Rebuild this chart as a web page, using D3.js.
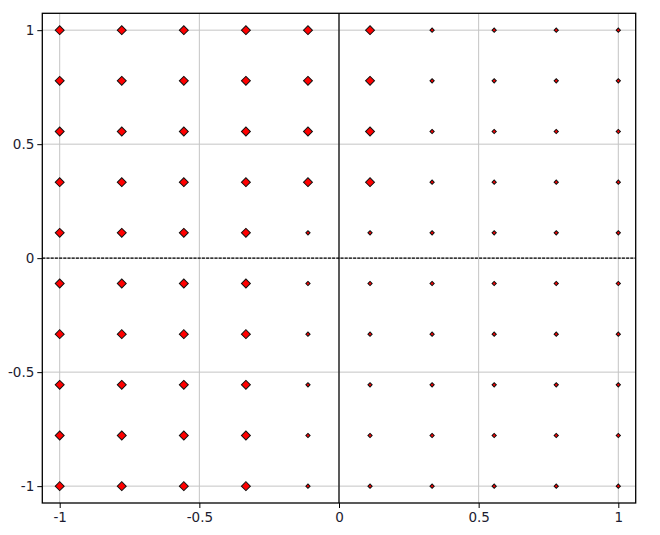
<!DOCTYPE html>
<html><head><meta charset="utf-8">
<script src="https://cdn.jsdelivr.net/npm/d3@7"></script>
<style>body{margin:0;background:#fff}</style>
</head><body>
<script>
const xValues = [-1, -0.7778, -0.5556, -0.3333, -0.1111, 0.1111, 0.3333, 0.5556, 0.7778, 1];
const yValues = [1, 0.7778, 0.5556, 0.3333, 0.1111, -0.1111, -0.3333, -0.5556, -0.7778, -1];
// 1 = large marker, 0 = small marker; rows follow yValues, columns follow xValues
const bigMarker = [
  [1,1,1,1,1,1,0,0,0,0],
  [1,1,1,1,1,1,0,0,0,0],
  [1,1,1,1,1,1,0,0,0,0],
  [1,1,1,1,1,1,0,0,0,0],
  [1,1,1,1,0,0,0,0,0,0],
  [1,1,1,1,0,0,0,0,0,0],
  [1,1,1,1,0,0,0,0,0,0],
  [1,1,1,1,0,0,0,0,0,0],
  [1,1,1,1,0,0,0,0,0,0],
  [1,1,1,1,0,0,0,0,0,0]
];
const tickValues = [-1, -0.5, 0, 0.5, 1];
const tickLabels = ["-1", "-0.5", "0", "0.5", "1"];

const W = 660, H = 535;
const L = 42.3, R = 635.7, T = 13.3, B = 503;
const svg = d3.select("body").append("svg").attr("width", W).attr("height", H);

const x = d3.scaleLinear().domain([-1.0623, 1.0623]).range([L, R]);
const y = d3.scaleLinear().domain([-1.074, 1.074]).range([B, T]);

// grid
svg.append("g").selectAll("line.gx").data(tickValues).join("line")
  .attr("x1", d => x(d)).attr("x2", d => x(d)).attr("y1", T).attr("y2", B)
  .attr("stroke", "#c4c4c4").attr("stroke-width", 1);
svg.append("g").selectAll("line.gy").data(tickValues).join("line")
  .attr("y1", d => y(d)).attr("y2", d => y(d)).attr("x1", L).attr("x2", R)
  .attr("stroke", "#c4c4c4").attr("stroke-width", 1);

// zero lines
svg.append("line").attr("x1", x(0)).attr("x2", x(0)).attr("y1", T).attr("y2", B)
  .attr("stroke", "#000").attr("stroke-width", 1.2);
svg.append("line").attr("x1", L).attr("x2", R).attr("y1", y(0)).attr("y2", y(0))
  .attr("stroke", "#000").attr("stroke-width", 1.2).attr("stroke-dasharray", "3,1.2");

// points
const pts = [];
yValues.forEach((yv, i) => xValues.forEach((xv, j) => pts.push({x: xv, y: yv, big: bigMarker[i][j]})));
const sizeScale = d3.scaleOrdinal().domain([0, 1]).range([9, 40]);
svg.append("g").selectAll("path").data(pts).join("path")
  .attr("d", d => d3.symbol(d3.symbolSquare, sizeScale(d.big))())
  .attr("transform", d => `translate(${x(d.x)},${y(d.y)}) rotate(45)`)
  .attr("fill", "#ff0000").attr("stroke", "#111").attr("stroke-width", 1);

// frame
svg.append("rect").attr("x", L).attr("y", T).attr("width", R - L).attr("height", B - T)
  .attr("fill", "none").attr("stroke", "#000").attr("stroke-width", 1.3);

// axes
const fmt = d => tickLabels[tickValues.indexOf(d)];
const ax = svg.append("g").attr("transform", `translate(0,${B})`)
  .call(d3.axisBottom(x).tickValues(tickValues).tickFormat(fmt).tickSize(5).tickSizeOuter(0).tickPadding(4));
const ay = svg.append("g").attr("transform", `translate(${L},0)`)
  .call(d3.axisLeft(y).tickValues(tickValues).tickFormat(fmt).tickSize(5).tickSizeOuter(0).tickPadding(3));
[ax, ay].forEach(a => {
  a.select(".domain").remove();
  a.selectAll("line").attr("stroke", "#000");
  a.selectAll("text").attr("font-family", "DejaVu Sans").attr("font-size", 13.5).attr("fill", "#1c1c30");
});
</script>
</body></html>
